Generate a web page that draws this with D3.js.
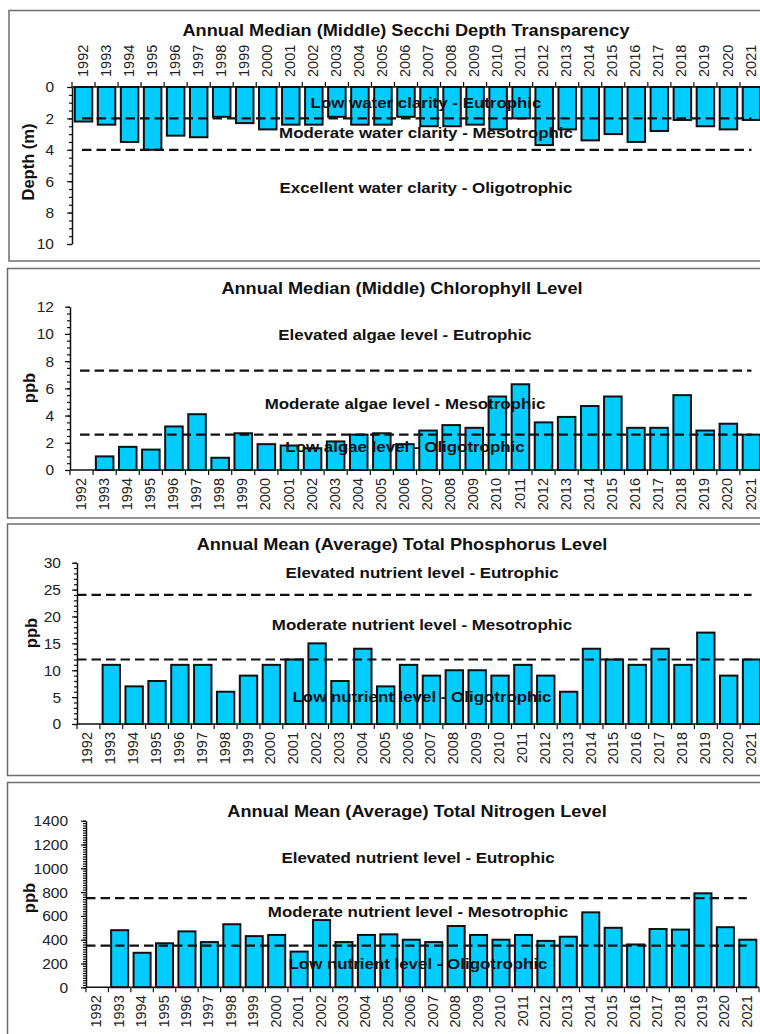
<!DOCTYPE html>
<html>
<head>
<meta charset="utf-8">
<script src="https://cdn.jsdelivr.net/npm/d3@7"></script>
<style>
  body { margin: 0; background: #fff; }
  svg { display: block; font-family: "Liberation Sans", Arial, sans-serif; }
</style>
</head>
<body>
<div id="chart-area"></div>
<script>

// DATA

var years = ["1992", "1993", "1994", "1995", "1996", "1997", "1998", "1999", "2000", "2001",
             "2002", "2003", "2004", "2005", "2006", "2007", "2008", "2009", "2010", "2011",
             "2012", "2013", "2014", "2015", "2016", "2017", "2018", "2019", "2020", "2021"];

var secchiDepth = [2.2, 2.4, 3.5, 4.0, 3.1, 3.2, 1.9, 2.3, 2.7, 2.4,
                   2.4, 1.9, 2.4, 2.4, 1.9, 2.5, 2.5, 2.4, 2.7, 2.0,
                   3.7, 2.7, 3.4, 3.0, 3.5, 2.8, 2.1, 2.5, 2.7, 2.1];

var chlorophyll = [null, 1.0, 1.7, 1.5, 3.2, 4.1, 0.9, 2.7, 1.9, 1.8,
                   1.6, 2.1, 2.6, 2.7, 1.9, 2.9, 3.3, 3.1, 5.4, 6.3,
                   3.5, 3.9, 4.7, 5.4, 3.1, 3.1, 5.5, 2.9, 3.4, 2.6];

var phosphorus = [null, 11, 7, 8, 11, 11, 6, 9, 11, 12,
                  15, 8, 14, 7, 11, 9, 10, 10, 9, 11,
                  9, 6, 14, 12, 11, 14, 11, 17, 9, 12];

var nitrogen = [null, 480, 290, 370, 470, 380, 530, 430, 440, 300,
                565, 380, 440, 445, 400, 380, 515, 440, 400, 440,
                390, 425, 630, 500, 360, 490, 485, 790, 505, 400];

var secchiLines = [2, 4];
var chlorophyllLines = [2.6, 7.3];
var phosphorusLines = [12, 24];
var nitrogenLines = [350, 750];

var secchiTicks = [0, 2, 4, 6, 8, 10];
var chlorophyllTicks = [0, 2, 4, 6, 8, 10, 12];
var phosphorusTicks = [0, 5, 10, 15, 20, 25, 30];
var nitrogenTicks = [0, 200, 400, 600, 800, 1000, 1200, 1400];

var secchiZones = ["Low water clarity - Eutrophic", "Moderate water clarity - Mesotrophic", "Excellent water clarity - Oligotrophic"];
var chlorophyllZones = ["Elevated algae level - Eutrophic", "Moderate algae level - Mesotrophic", "Low algae level - Oligotrophic"];
var phosphorusZones = ["Elevated nutrient level - Eutrophic", "Moderate nutrient level - Mesotrophic", "Low nutrient level - Oligotrophic"];
var nitrogenZones = ["Elevated nutrient level - Eutrophic", "Moderate nutrient level - Mesotrophic", "Low nutrient level - Oligotrophic"];

// where the zone labels sit, in data units
var secchiZoneAt = [1.0, 2.9, 6.4];
var chlorophyllZoneAt = [9.9, 4.85, 1.7];
var phosphorusZoneAt = [28.2, 18.5, 5.1];
var nitrogenZoneAt = [1089, 635, 193];


// CHART AREA

var svg = d3.select("#chart-area").append("svg")
    .attr("width", 760)
    .attr("height", 1034);

var STRETCH = 1.15;   // the original text looks a bit wide

function wideText(g, x, y, str, size) {
    return g.append("text")
        .attr("transform", "translate(" + x + "," + y + ") scale(" + STRETCH + ",1)")
        .attr("text-anchor", "middle")
        .attr("dy", "0.35em")
        .style("font-size", size + "px")
        .style("font-weight", "bold")
        .text(str);
}

function drawPanel(p) {
    var g = svg.append("g");

    // panel frame
    g.append("rect")
        .attr("x", p.box[0]).attr("y", p.box[1])
        .attr("width", 772 - p.box[0]).attr("height", p.box[2] - p.box[1])
        .attr("fill", "#fff")
        .attr("stroke", "#6e6e6e")
        .attr("stroke-width", 1.5);

    var x = d3.scaleBand()
        .domain(years)
        .range([p.left, p.right])
        .paddingInner(0.24)
        .paddingOuter(0.12);

    var y = d3.scaleLinear()
        .domain(p.domain)
        .range(p.range);

    var data = years.map(function(d, i) { return {year: d, value: p.values[i]}; })
        .filter(function(d) { return d.value != null; });

    // ---- BARS ----
    g.selectAll(".bar")
        .data(data)
        .enter().append("rect")
        .attr("class", "bar")
        .attr("x", function(d) { return x(d.year); })
        .attr("width", x.bandwidth())
        .attr("y", function(d) { return Math.min(y(0), y(d.value)); })
        .attr("height", function(d) { return Math.abs(y(d.value) - y(0)); })
        .attr("fill", "#00ccff")
        .attr("stroke", "#111")
        .attr("stroke-width", 2);

    // ---- Y AXIS ----
    var yMinor = g.append("g")
        .attr("transform", "translate(" + p.left + ",0)")
        .call(d3.axisLeft(y).tickValues(p.minor).tickSize(3).tickFormat(""));
    yMinor.select(".domain").remove();

    var yAxis = g.append("g")
        .attr("transform", "translate(" + p.left + ",0)")
        .call(d3.axisLeft(y).tickValues(p.ticks).tickSize(5).tickSizeOuter(0)
            .tickPadding(p.tickPad).tickFormat(d3.format("d")));
    yAxis.selectAll("text").style("font-size", "15.5px").attr("fill", "#222");
    yAxis.selectAll("line").attr("stroke", "#111").attr("stroke-width", 1.2);
    yMinor.selectAll("line").attr("stroke", "#111").attr("stroke-width", 1.2);
    yAxis.select(".domain").attr("stroke", "#111").attr("stroke-width", 1.5);

    // ---- X AXIS ----
    var y0 = y(0);
    var xAxis = g.append("g")
        .attr("transform", "translate(0," + y0 + ")")
        .call((p.top ? d3.axisTop(x) : d3.axisBottom(x)).tickSize(0).tickSizeOuter(0));
    xAxis.select(".domain").attr("stroke", "#111").attr("stroke-width", 1.5)
        .attr("d", "M" + p.left + ",0H" + p.right);
    xAxis.selectAll("text")
        .attr("transform", "rotate(-90)")
        .attr("x", p.top ? 10 : -8)
        .attr("y", 0)
        .attr("dy", "0.28em")
        .style("text-anchor", p.top ? "start" : "end")
        .style("font-size", "14.5px")
        .attr("fill", "#222");

    // tick marks sit on the category boundaries
    var step = x.step();
    var edges = years.map(function(d) { return x(d) - step * x.paddingInner() / 2; });
    edges.push(x(years[years.length - 1]) + x.bandwidth() + step * x.paddingInner() / 2);
    g.selectAll(".edge")
        .data(edges)
        .enter().append("line")
        .attr("x1", function(d) { return d; })
        .attr("x2", function(d) { return d; })
        .attr("y1", y0)
        .attr("y2", y0 + (p.top ? -5 : 5))
        .attr("stroke", "#111")
        .attr("stroke-width", 1.2);

    // ---- THRESHOLD LINES ----
    var half = x.bandwidth() / 2;
    var lineStart = p.lineFromAxis ? p.left : x(years[0]) + half - 1.5;
    var lineEnd = x(years[years.length - 1]) + half - p.lineTrim;
    g.selectAll(".threshold")
        .data(p.lines)
        .enter().append("line")
        .attr("x1", lineStart)
        .attr("x2", lineEnd)
        .attr("y1", function(d) { return y(d); })
        .attr("y2", function(d) { return y(d); })
        .attr("stroke", "#111")
        .attr("stroke-width", 2.2)
        .attr("stroke-dasharray", "9.5,5");

    // ---- TEXT ----
    p.zones.forEach(function(z, i) {
        wideText(g, p.zoneX, y(p.zoneAt[i]), z, 14.7).attr("fill", "#111");
    });

    wideText(g, p.titleX, p.titleY, p.title, 15.8).attr("fill", "#111");

    g.append("text")
        .attr("transform", "translate(" + p.yTitleX + "," + p.yTitleY + ") rotate(-90)")
        .attr("text-anchor", "middle")
        .attr("dy", "0.35em")
        .style("font-size", "16.5px")
        .style("font-weight", "bold")
        .attr("fill", "#111")
        .text(p.yTitle);
}


drawPanel({
    box: [9, 10.5, 261],
    left: 72, right: 763,
    domain: [0, 10], range: [87, 244],
    top: true,
    values: secchiDepth,
    ticks: secchiTicks, minor: d3.range(0, 10.01, 0.5), tickPad: 13,
    lines: secchiLines, lineFromAxis: false, lineTrim: 0,
    zones: secchiZones, zoneAt: secchiZoneAt, zoneX: 426,
    title: "Annual Median (Middle) Secchi Depth Transparency", titleX: 406, titleY: 30,
    yTitle: "Depth (m)", yTitleX: 28, yTitleY: 162
});

drawPanel({
    box: [7.5, 268.5, 518],
    left: 70, right: 763,
    domain: [0, 12], range: [470, 306.7],
    top: false,
    values: chlorophyll,
    ticks: chlorophyllTicks, minor: d3.range(0, 12.01, 0.5), tickPad: 11,
    lines: chlorophyllLines, lineFromAxis: false, lineTrim: 0,
    zones: chlorophyllZones, zoneAt: chlorophyllZoneAt, zoneX: 405,
    title: "Annual Median (Middle) Chlorophyll Level", titleX: 402, titleY: 288,
    yTitle: "ppb", yTitleX: 29, yTitleY: 388
});

drawPanel({
    box: [7.5, 524, 775.5],
    left: 77, right: 763,
    domain: [0, 30], range: [724, 562.7],
    top: false,
    values: phosphorus,
    ticks: phosphorusTicks, minor: d3.range(0, 30.01, 1), tickPad: 11,
    lines: phosphorusLines, lineFromAxis: true, lineTrim: 0,
    zones: phosphorusZones, zoneAt: phosphorusZoneAt, zoneX: 422,
    title: "Annual Mean (Average) Total Phosphorus Level", titleX: 402, titleY: 544,
    yTitle: "ppb", yTitleX: 31, yTitleY: 633
});

drawPanel({
    box: [7.5, 782.5, 1045],
    left: 86, right: 759,
    domain: [0, 1400], range: [987.3, 820.7],
    top: false,
    values: nitrogen,
    ticks: nitrogenTicks, minor: d3.range(0, 1400.1, 20), tickPad: 13,
    lines: nitrogenLines, lineFromAxis: true, lineTrim: 1,
    zones: nitrogenZones, zoneAt: nitrogenZoneAt, zoneX: 418,
    title: "Annual Mean (Average) Total Nitrogen Level", titleX: 417, titleY: 811,
    yTitle: "ppb", yTitleX: 29, yTitleY: 898
});

</script>
</body>
</html>
